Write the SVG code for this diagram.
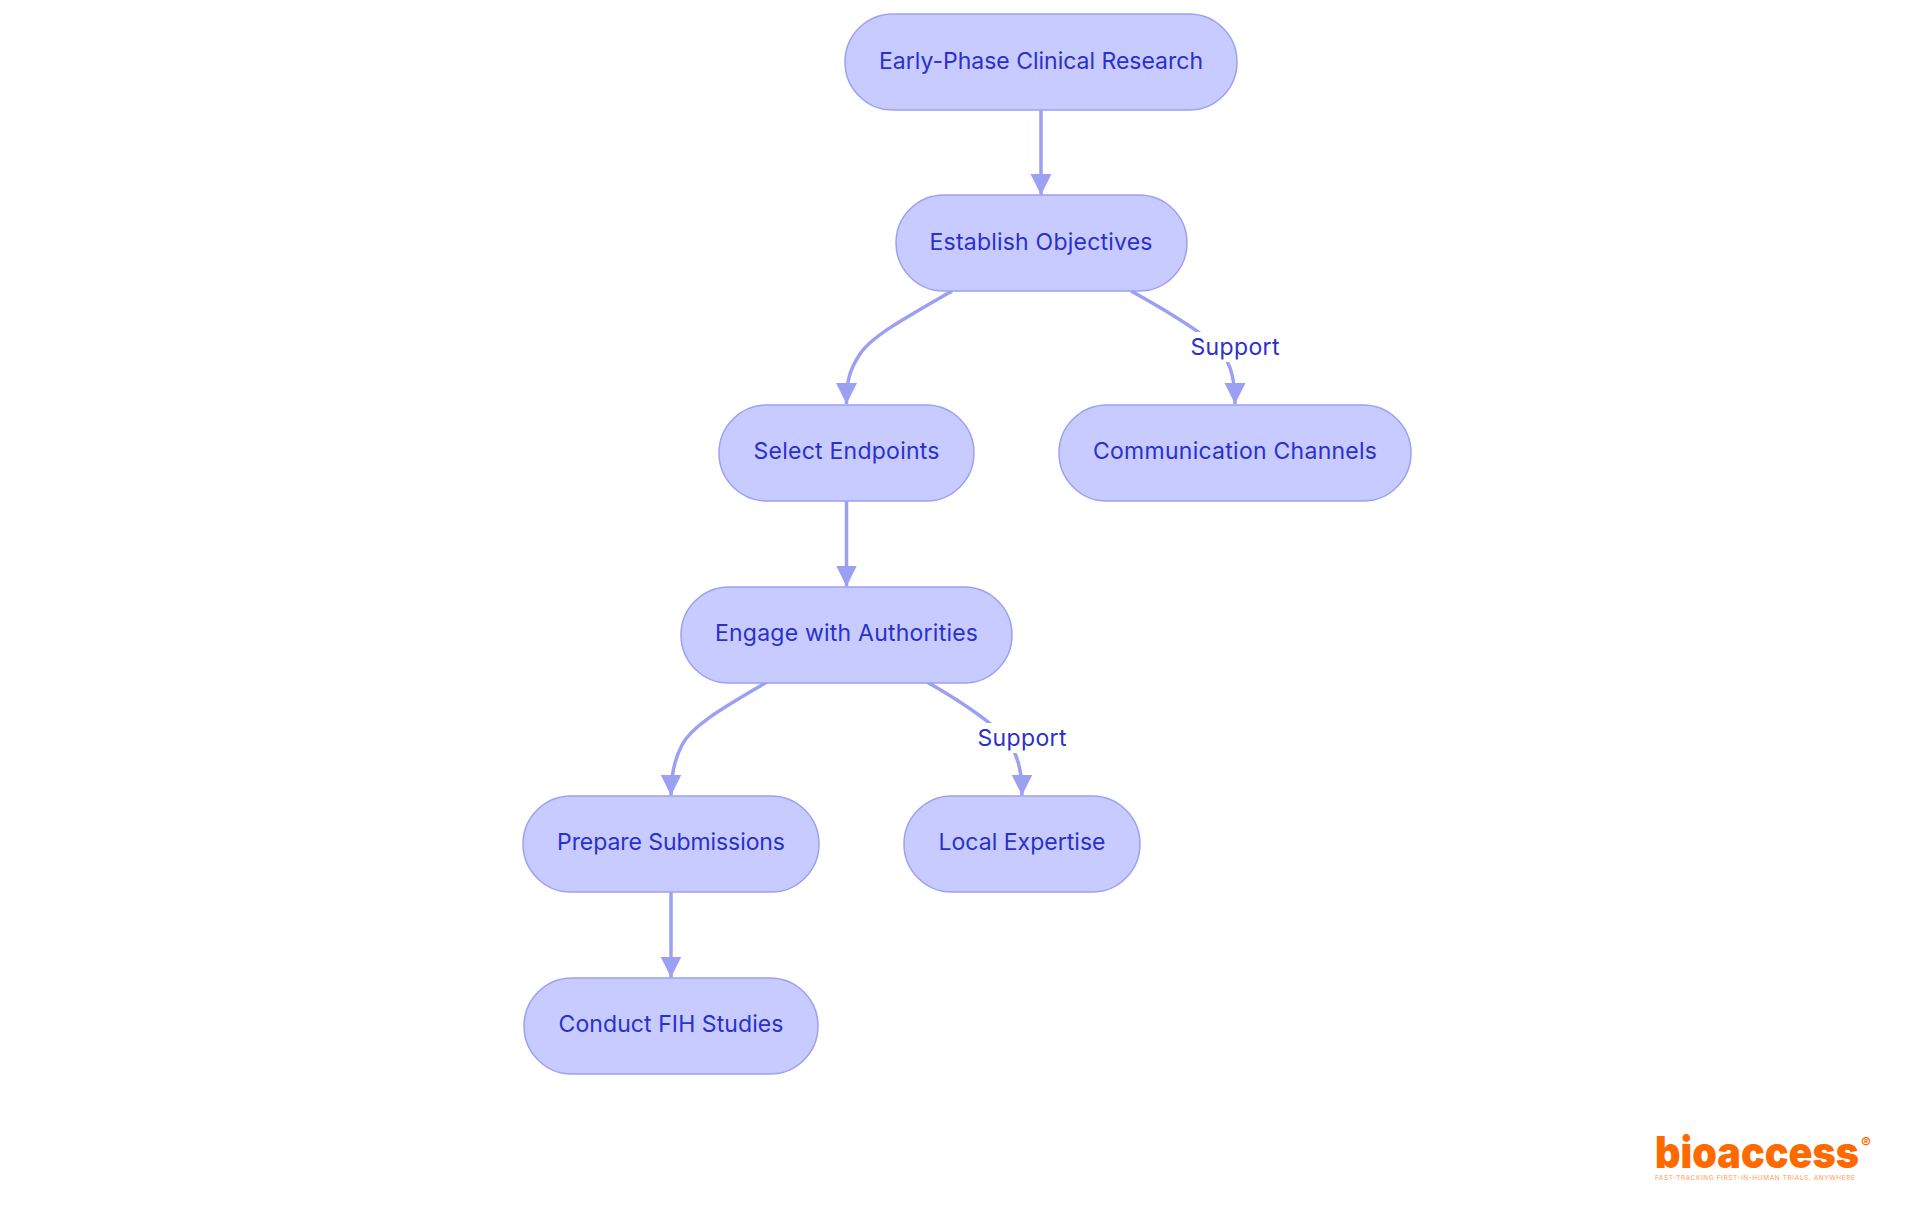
<svg xmlns="http://www.w3.org/2000/svg" width="1920" height="1215" viewBox="0 0 1920 1215">
<style>
.n rect{fill:#c8cbff;stroke:#9ca0f3;stroke-width:1.5}
.t{font-family:"Inter","Noto Sans",sans-serif;font-size:23px;font-weight:400;fill:#2b30cc;text-anchor:middle}
.e{fill:none;stroke:#9ca0f3;stroke-width:3.5}
.lb{fill:#fff}
</style>
<defs><marker id="a" markerUnits="userSpaceOnUse" markerWidth="22" markerHeight="22" refX="21" refY="10.5" orient="auto"><path d="M0,0L21,10.5L0,21Z" fill="#9ca0f3"/></marker></defs>
<rect width="1920" height="1215" fill="#fff"/>
<g id="connectors">
<path class="e" marker-end="url(#a)" d="M1041,110V195"/>
<path class="e" marker-end="url(#a)" d="M952,291C905,318 872,336 860,354C850,369 846.5,380 846.5,404"/>
<path class="e" marker-end="url(#a)" d="M1131,291C1160,307 1190,325 1212,342C1230,358 1235,376 1235,404"/>
<path class="e" marker-end="url(#a)" d="M846.5,500V586.5"/>
<path class="e" marker-end="url(#a)" d="M767,682C725,707 692,725 682,745C674,760 671,775 671,795.500"/>
<path class="e" marker-end="url(#a)" d="M927,682C955,698 980,714 1000,732C1018,750 1022,770 1022,795.500"/>
<path class="e" marker-end="url(#a)" d="M671,891V977.500"/>
</g>
<g id="label-support-1"><rect class="lb" x="1190" y="332" width="90" height="30"/><text class="t" x="1235" y="355" textLength="89">Support</text></g>
<g id="label-support-2"><rect class="lb" x="977" y="723" width="90" height="30"/><text class="t" x="1022" y="746" textLength="89">Support</text></g>
<g id="n1" class="n"><rect x="845" y="14" width="392" height="96" rx="48"/><text class="t" x="1041" y="69" textLength="324">Early-Phase Clinical Research</text></g>
<g id="n2" class="n"><rect x="896" y="195" width="291" height="96" rx="48"/><text class="t" x="1041" y="250" textLength="223">Establish Objectives</text></g>
<g id="n3" class="n"><rect x="719" y="405" width="255" height="96" rx="48"/><text class="t" x="846.500" y="459" textLength="186">Select Endpoints</text></g>
<g id="n4" class="n"><rect x="1059" y="405" width="352" height="96" rx="48"/><text class="t" x="1235" y="459" textLength="284">Communication Channels</text></g>
<g id="n5" class="n"><rect x="681" y="587" width="331" height="96" rx="48"/><text class="t" x="846.500" y="641" textLength="263">Engage with Authorities</text></g>
<g id="n6" class="n"><rect x="523" y="796" width="296" height="96" rx="48"/><text class="t" x="671" y="850" textLength="228">Prepare Submissions</text></g>
<g id="n7" class="n"><rect x="904" y="796" width="236" height="96" rx="48"/><text class="t" x="1022" y="850" textLength="167">Local Expertise</text></g>
<g id="n8" class="n"><rect x="524" y="978" width="294" height="96" rx="48"/><text class="t" x="671" y="1032" textLength="225">Conduct FIH Studies</text></g>
<g id="logo">
<text x="1655" y="1168" font-family="Inter,sans-serif" font-size="44" font-weight="900" fill="#ff6a00" textLength="204" lengthAdjust="spacingAndGlyphs">bioaccess</text>
<text x="1861" y="1148" font-family="Inter,sans-serif" font-size="15" font-weight="700" fill="#ff6a00">®</text>
<text x="1655" y="1180" font-family="Inter,sans-serif" font-size="6.500" font-weight="400" fill="#ff9a55" textLength="200">FAST-TRACKING FIRST-IN-HUMAN TRIALS, ANYWHERE</text>
</g>
</svg>
